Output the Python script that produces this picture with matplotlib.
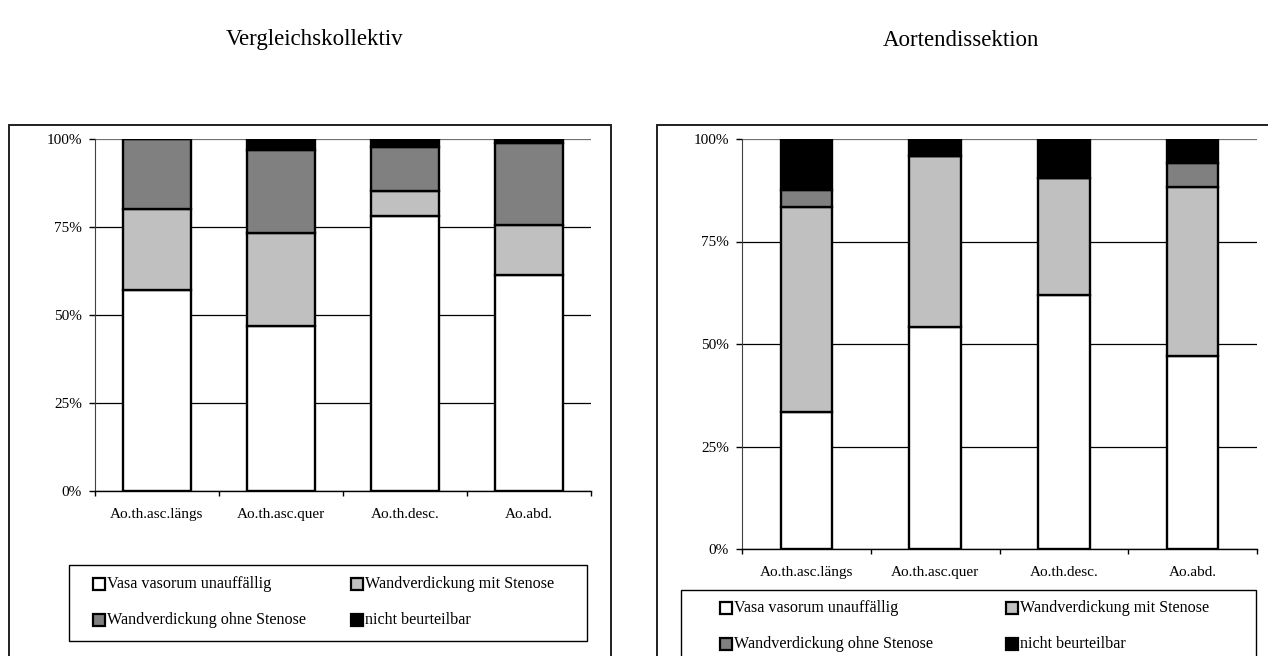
import matplotlib
matplotlib.use("Agg")
import matplotlib.pyplot as plt
from matplotlib.patches import Rectangle

plt.rcParams["font.family"] = ["Liberation Serif", "DejaVu Serif"]

kategorien = ["Ao.th.asc.längs", "Ao.th.asc.quer", "Ao.th.desc.", "Ao.abd."]
serien = ["Vasa vasorum unauffällig", "Wandverdickung mit Stenose",
          "Wandverdickung ohne Stenose", "nicht beurteilbar"]
farben = ["#FFFFFF", "#C0C0C0", "#808080", "#000000"]
y_ticks = [0, 25, 50, 75, 100]
y_labels = ["0%", "25%", "50%", "75%", "100%"]

# Vergleichskollektiv (Anteile in %)
vk_vasa = [57.0, 47.0, 78.0, 61.5]
vk_mit = [23.0, 26.4, 7.2, 14.2]
vk_ohne = [20.0, 23.5, 12.6, 23.1]
vk_nicht = [0.0, 3.1, 2.2, 1.2]

# Aortendissektion (Anteile in %)
ad_vasa = [33.3, 54.2, 61.9, 47.1]
ad_mit = [50.0, 41.7, 28.6, 41.2]
ad_ohne = [4.2, 0.0, 0.0, 5.9]
ad_nicht = [12.5, 4.2, 9.5, 5.9]

W, H = 1268, 656
fig = plt.figure(figsize=(W / 100, H / 100), dpi=100)


def px(x0, y0, x1, y1):
    # Pixelkoordinaten (oben links) -> Figure-Koordinaten
    return [x0 / W, 1 - y1 / H, (x1 - x0) / W, (y1 - y0) / H]


def saeulen(ax, daten, breite):
    x = range(len(kategorien))
    unten = [0.0] * len(kategorien)
    for werte, farbe in zip(daten, farben):
        ax.bar(x, werte, breite, bottom=unten, color=farbe,
               edgecolor="black", linewidth=1.7, zorder=3)
        unten = [u + w for u, w in zip(unten, werte)]
    ax.set_xlim(-0.5, len(kategorien) - 0.5)
    ax.set_ylim(0, 100)
    ax.set_yticks(y_ticks)
    ax.set_yticklabels(y_labels, fontsize=11)
    ax.yaxis.grid(True, color="black", linewidth=0.9, zorder=0)
    ax.get_ygridlines()[-1].set_color("#707070")
    ax.set_xticks([i - 0.5 for i in range(len(kategorien) + 1)])
    ax.set_xticklabels([])
    ax.set_xticks(list(x), minor=True)
    ax.set_xticklabels(kategorien, minor=True, fontsize=11)
    ax.tick_params(axis="x", which="major", length=3.8, width=1, direction="out")
    ax.tick_params(axis="x", which="minor", length=0, pad=12)
    ax.tick_params(axis="y", length=4.5, width=1, direction="out", pad=5)
    for s in ["top", "right"]:
        ax.spines[s].set_visible(False)
    ax.spines["left"].set_color("#404040")
    ax.spines["bottom"].set_color("black")
    ax.spines["bottom"].set_linewidth(1.0)
    ax.set_axisbelow(True)


def legende(box, spalten, zeilen):
    x0, y0, x1, y1 = box
    fig.patches.append(Rectangle((x0 / W, 1 - y1 / H), (x1 - x0) / W, (y1 - y0) / H,
                                 transform=fig.transFigure, facecolor="white",
                                 edgecolor="black", linewidth=1.0))
    # erste Zeile vasa / mit, zweite Zeile ohne / nicht
    for i, (name, farbe) in enumerate(zip(serien, farben)):
        mx = spalten[i % 2]
        my = zeilen[i // 2]
        fig.patches.append(Rectangle((mx / W, 1 - (my + 6) / H), 12 / W, 12 / H,
                                     transform=fig.transFigure, facecolor=farbe,
                                     edgecolor="black", linewidth=1.6))
        fig.text((mx + 14) / W, 1 - my / H, name, ha="left", va="center",
                 fontsize=11.6)


# äußere Rahmen
fig.patches.append(Rectangle((9 / W, -0.05), (611 - 9) / W, 1.05 - 125 / H,
                             transform=fig.transFigure, fill=False,
                             edgecolor="#202020", linewidth=1.4))
fig.patches.append(Rectangle((657 / W, -0.05), 0.5, 1.05 - 125 / H,
                             transform=fig.transFigure, fill=False,
                             edgecolor="#202020", linewidth=1.4))

ax1 = fig.add_axes(px(95, 139, 591, 491))
saeulen(ax1, [vk_vasa, vk_mit, vk_ohne, vk_nicht], 0.556)
ax2 = fig.add_axes(px(742, 139, 1257, 549))
saeulen(ax2, [ad_vasa, ad_mit, ad_ohne, ad_nicht], 0.40)

legende((69, 565, 587, 641), (93, 351), (584, 620))
legende((681, 590, 1256, 670), (720, 1006), (608, 644))

fig.text(315 / W, 1 - 40 / H, "Vergleichskollektiv", ha="center", va="center", fontsize=16.5)
fig.text(961 / W, 1 - 40 / H, "Aortendissektion", ha="center", va="center", fontsize=16.5)

fig.savefig("out.png", dpi=100, facecolor="white")
